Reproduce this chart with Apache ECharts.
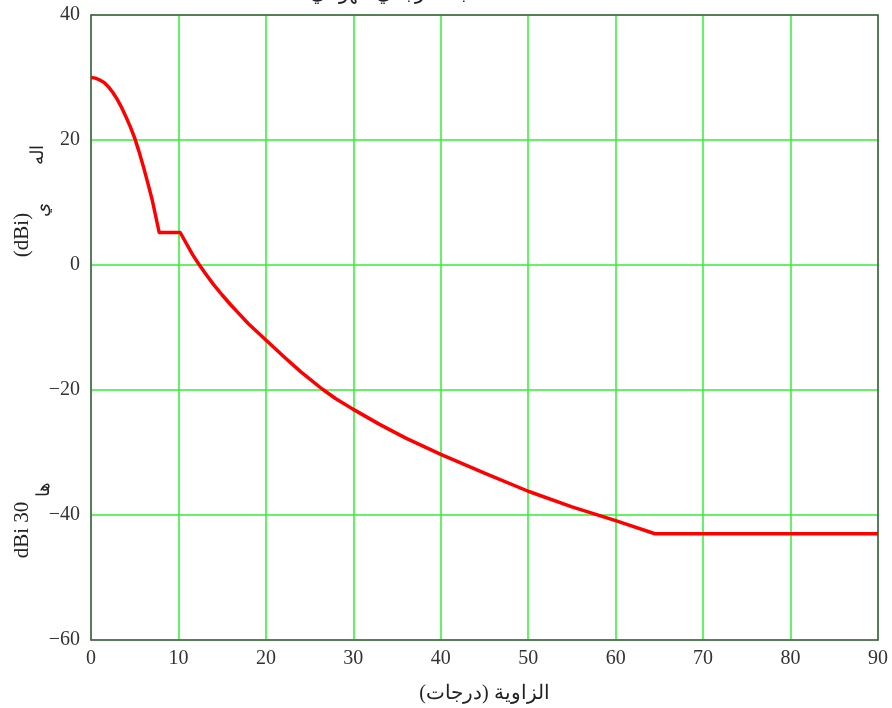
<!DOCTYPE html>
<html>
<head>
<meta charset="utf-8">
<script src="https://cdn.jsdelivr.net/npm/echarts@6/dist/echarts.min.js"></script>
<style>html,body{margin:0;padding:0;background:#fff}#c{width:892px;height:708px}</style>
</head>
<body>
<div id="c"></div>
<script>
// Angle (degrees)
const angles = [0, 0.5, 1, 1.5, 2, 2.5, 3, 3.5, 4, 4.5, 5, 5.5, 6, 6.5, 7, 7.8, 10.2, 11, 11.6, 12.3, 13, 14, 15, 16, 17, 18, 20, 22, 24, 26.4, 28, 30, 33, 36, 40, 45, 50, 55, 60, 64.5, 90];
// Gain (dBi)
const gains = [30, 29.9, 29.6, 29.2, 28.5, 27.6, 26.5, 25.2, 23.7, 22.1, 20.3, 18.1, 15.7, 13.1, 10.4, 5.2, 5.2, 3.2, 1.7, 0.2, -1.2, -3.1, -4.8, -6.4, -7.9, -9.4, -12, -14.6, -17.1, -19.8, -21.4, -23.1, -25.5, -27.7, -30.3, -33.3, -36.2, -38.7, -40.9, -43, -43];
const xTicks = [0, 10, 20, 30, 40, 50, 60, 70, 80, 90];
const yTicks = [-60, -40, -20, 0, 20, 40];
const xName = 'الزاوية (درجات)';
const titleText = 'مخطط الكسب المرجعي للهوائي';

const chart = echarts.init(document.getElementById('c'));
const serif = '"Liberation Serif", "DejaVu Serif", serif';
const frameLine = {show: true, onZero: false, lineStyle: {color: '#555', width: 1.5}};
chart.setOption({
  animation: false,
  title: {text: titleText, left: 440, top: -21, textAlign: 'center',
    textStyle: {fontFamily: serif, fontSize: 20, fontWeight: 'normal', color: '#222'}},
  grid: {left: 91, right: 14, top: 15, bottom: 68, outerBoundsMode: 'none', containLabel: false},
  xAxis: [{
    type: 'value', min: xTicks[0], max: xTicks[xTicks.length - 1], interval: 10,
    name: xName, nameLocation: 'middle', nameGap: 44,
    nameTextStyle: {fontFamily: serif, fontSize: 20, color: '#222'},
    axisLine: frameLine,
    axisTick: {show: false},
    axisLabel: {fontFamily: serif, fontSize: 20, color: '#333', margin: 9},
    splitLine: {show: true, lineStyle: {color: '#33ee33', width: 1.5}}
  }, {
    type: 'value', position: 'top', min: 0, max: 90, interval: 10,
    axisLine: frameLine, axisTick: {show: false}, axisLabel: {show: false}, splitLine: {show: false}
  }],
  yAxis: [{
    type: 'value', min: yTicks[0], max: yTicks[yTicks.length - 1], interval: 20,
    axisLine: frameLine,
    axisTick: {show: false},
    axisLabel: {fontFamily: serif, fontSize: 20, color: '#333', margin: 11,
      formatter: v => String(v).replace('-', '\u2212')},
    splitLine: {show: true, lineStyle: {color: '#33ee33', width: 1.5}}
  }, {
    type: 'value', position: 'right', min: -60, max: 40, interval: 20,
    axisLine: frameLine, axisTick: {show: false}, axisLabel: {show: false}, splitLine: {show: false}
  }],
  graphic: [
    {type: 'text', x: 22, y: 235, rotation: Math.PI / 2,
      style: {text: '(dBi)', font: '21px ' + serif, fill: '#222', align: 'center', verticalAlign: 'middle'}},
    {type: 'text', x: 43, y: 210, rotation: Math.PI / 2,
      style: {text: 'ي', font: '18px ' + serif, fill: '#222', align: 'center', verticalAlign: 'middle'}},
    {type: 'text', x: 38, y: 155, rotation: Math.PI / 2,
      style: {text: 'اله', font: '18px ' + serif, fill: '#222', align: 'center', verticalAlign: 'middle'}},
    {type: 'text', x: 22, y: 530, rotation: Math.PI / 2,
      style: {text: 'dBi 30', font: '21px ' + serif, fill: '#222', align: 'center', verticalAlign: 'middle'}},
    {type: 'text', x: 44, y: 489, rotation: Math.PI / 2,
      style: {text: 'ها', font: '18px ' + serif, fill: '#222', align: 'center', verticalAlign: 'middle'}}
  ],
  series: [{
    type: 'line', showSymbol: false, smooth: false,
    data: angles.map((a, i) => [a, gains[i]]),
    lineStyle: {color: '#ff0000', width: 3.5, join: 'round'}
  }]
});
</script>
</body>
</html>
